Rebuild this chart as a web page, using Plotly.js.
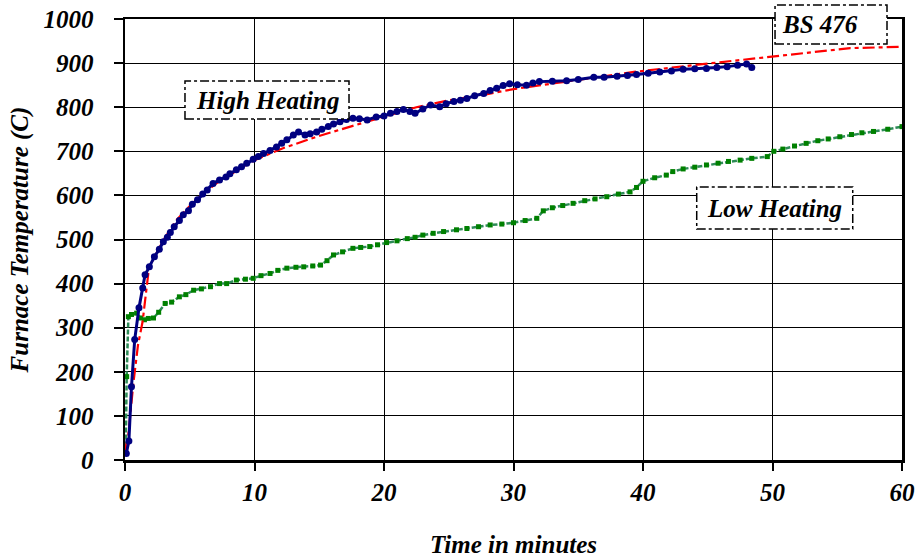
<!DOCTYPE html>
<html>
<head>
<meta charset="utf-8">
<script src="https://cdn.plot.ly/plotly-3.0.1.min.js"></script>
<style>html,body{margin:0;padding:0;background:#fff;}#chart{width:922px;height:560px;}</style>
</head>
<body>
<div id="chart"></div>
<script>
// High Heating (blue)
const highTime = [0.1,0.3,0.5,0.75,1.08,1.37,1.55,1.88,2.27,2.65,2.96,3.27,3.5,3.8,4.2,4.5,4.9,5.2,5.6,6.0,6.35,6.8,7.3,7.8,8.1,8.6,9.0,9.4,9.9,10.3,10.7,11.2,11.7,12.1,12.5,13.0,13.4,13.9,14.3,14.8,15.2,15.7,16.1,16.6,17.1,17.6,18.1,18.7,19.4,20.0,20.5,21.0,21.5,22.0,22.4,23.0,23.6,24.3,24.8,25.4,25.9,26.4,27.0,27.7,28.2,28.7,29.2,29.7,30.3,31.0,31.5,32.0,33.0,34.1,35.0,36.2,37.0,38.0,38.8,39.5,40.4,41.3,42.2,43.1,44.0,44.9,45.7,46.5,47.3,48.0,48.4];
const highTemp = [15,43,166,273,345,390,420,438,461,478,495,505,516,529,543,556,565,580,590,603,612,627,635,642,649,658,665,673,682,688,695,702,710,718,726,737,744,737,740,744,750,756,762,767,772,775,774,771,778,780,786,790,795,790,786,796,805,801,808,813,816,820,826,831,838,843,849,853,851,850,855,858,859,860,863,868,868,870,872,874,877,880,882,886,887,888,890,892,895,898,890];

// Low Heating (green)
const lowTime = [0.05,0.13,0.26,0.5,0.9,1.2,1.5,1.8,2.2,2.6,3.1,3.6,4.2,4.7,5.3,5.9,6.6,7.3,7.85,8.6,9.3,9.9,10.5,11.2,11.8,12.5,13.2,13.8,14.5,15.1,15.6,16.1,16.8,17.6,18.2,18.9,19.5,20.2,21.0,21.8,22.4,23.0,23.8,24.6,25.6,26.4,27.3,28.2,29.1,30.0,30.9,31.8,32.3,33.0,33.8,34.6,35.5,36.3,37.2,38.1,39.0,39.5,40.0,40.9,41.8,42.3,43.1,44.0,44.9,45.8,46.6,47.5,48.4,49.6,50.1,50.8,51.7,52.6,53.5,54.3,55.2,56.1,56.9,57.8,58.9,60.0];
const lowTemp = [15,189,325,330,333,322,318,321,322,335,355,358,370,375,385,388,393,400,400,408,410,412,418,423,430,435,437,438,440,442,452,465,472,480,482,484,488,493,497,502,505,510,514,518,522,525,529,533,535,538,543,548,565,572,577,582,588,592,597,603,608,618,632,640,646,654,660,664,669,673,677,680,684,688,700,705,712,718,724,728,733,738,742,745,750,756];

// BS 476 standard curve (red)
const bsTime = [0,0.25,0.65,1.0,1.36,1.8,2.0,3,4,5,6,7,8,9,10,12.2,14.8,17.4,19.9,22.5,25.1,27.7,30,34.1,39.3,44.4,50.1,56.0,60];
const bsTemp = [20,55,175,260,314,423,445,500,545,576,603,626,645,663,680,707,733,756,778,800,816,828,841,858,880,897,915,934,937];

const xTicks = [0,10,20,30,40,50,60];
const yTicks = [0,100,200,300,400,500,600,700,800,900,1000];

const serif = "Liberation Serif, Times New Roman, serif";
const labFont = {family: serif, size: 25, color: '#000', weight: 'bold', style: 'italic'};

const traces = [
  {x: lowTime, y: lowTemp, type: 'scatter', mode: 'lines+markers', name: 'Low Heating',
   line: {color: '#2e8b57', width: 2.5, dash: '5px,2px'},
   marker: {symbol: 'square', size: 5, color: '#008000'}},
  {x: bsTime, y: bsTemp, type: 'scatter', mode: 'lines', name: 'BS 476',
   line: {color: '#ff0000', width: 2.2, dash: '12px,4px,4px,4px'}},
  {x: highTime, y: highTemp, type: 'scatter', mode: 'lines+markers', name: 'High Heating',
   line: {color: '#000080', width: 3},
   marker: {symbol: 'circle', size: 7, color: '#000080'}}
];

function box(x0, x1, y0, y1) {
  return {type: 'rect', xref: 'paper', yref: 'paper', x0: x0, x1: x1, y0: y0, y1: y1,
          line: {color: '#000', width: 1.5, dash: 'dashdot'}, fillcolor: '#fff', layer: 'above'};
}

const layout = {
  width: 922, height: 560,
  margin: {l: 125, r: 20, t: 19, b: 100},
  paper_bgcolor: '#fff', plot_bgcolor: '#fff',
  showlegend: false,
  font: {family: serif, color: '#000'},
  xaxis: {
    range: [0, 60], tickvals: xTicks, ticktext: xTicks.map(String),
    showgrid: true, gridcolor: '#000', gridwidth: 1,
    showline: true, linecolor: '#000', linewidth: 2.5, mirror: true,
    ticks: 'outside', ticklen: 8, tickwidth: 2, tickcolor: '#000',
    tickfont: labFont, zeroline: false,
    title: {text: 'Time in minutes', font: labFont, standoff: 31}
  },
  yaxis: {
    range: [0, 1000], tickvals: yTicks, ticktext: yTicks.map(String),
    showgrid: true, gridcolor: '#000', gridwidth: 1,
    showline: true, linecolor: '#000', linewidth: 2.5, mirror: true,
    ticks: 'outside', ticklen: 9, tickwidth: 2, tickcolor: '#000',
    tickfont: labFont, zeroline: false, ticklabelstandoff: 15,
    title: {text: 'Furnace Temperature (C)', font: labFont, standoff: 8}
  },
  shapes: [
    box(0.0772, 0.2883, 0.7732, 0.8594),
    box(0.8366, 0.9807, 0.9433, 1.0317),
    box(0.7358, 0.9366, 0.5238, 0.619)
  ],
  annotations: [
    {xref: 'paper', yref: 'paper', x: 0.1828, y: 0.8163, text: 'High Heating', showarrow: false,
     xanchor: 'center', yanchor: 'middle', font: labFont},
    {xref: 'paper', yref: 'paper', x: 0.843, y: 0.9875, text: 'BS 476', showarrow: false,
     xanchor: 'left', yanchor: 'middle', font: labFont},
    {xref: 'paper', yref: 'paper', x: 0.8362, y: 0.5714, text: 'Low Heating', showarrow: false,
     xanchor: 'center', yanchor: 'middle', font: labFont}
  ]
};

Plotly.newPlot('chart', traces, layout, {displayModeBar: false, staticPlot: true});
</script>
</body>
</html>
